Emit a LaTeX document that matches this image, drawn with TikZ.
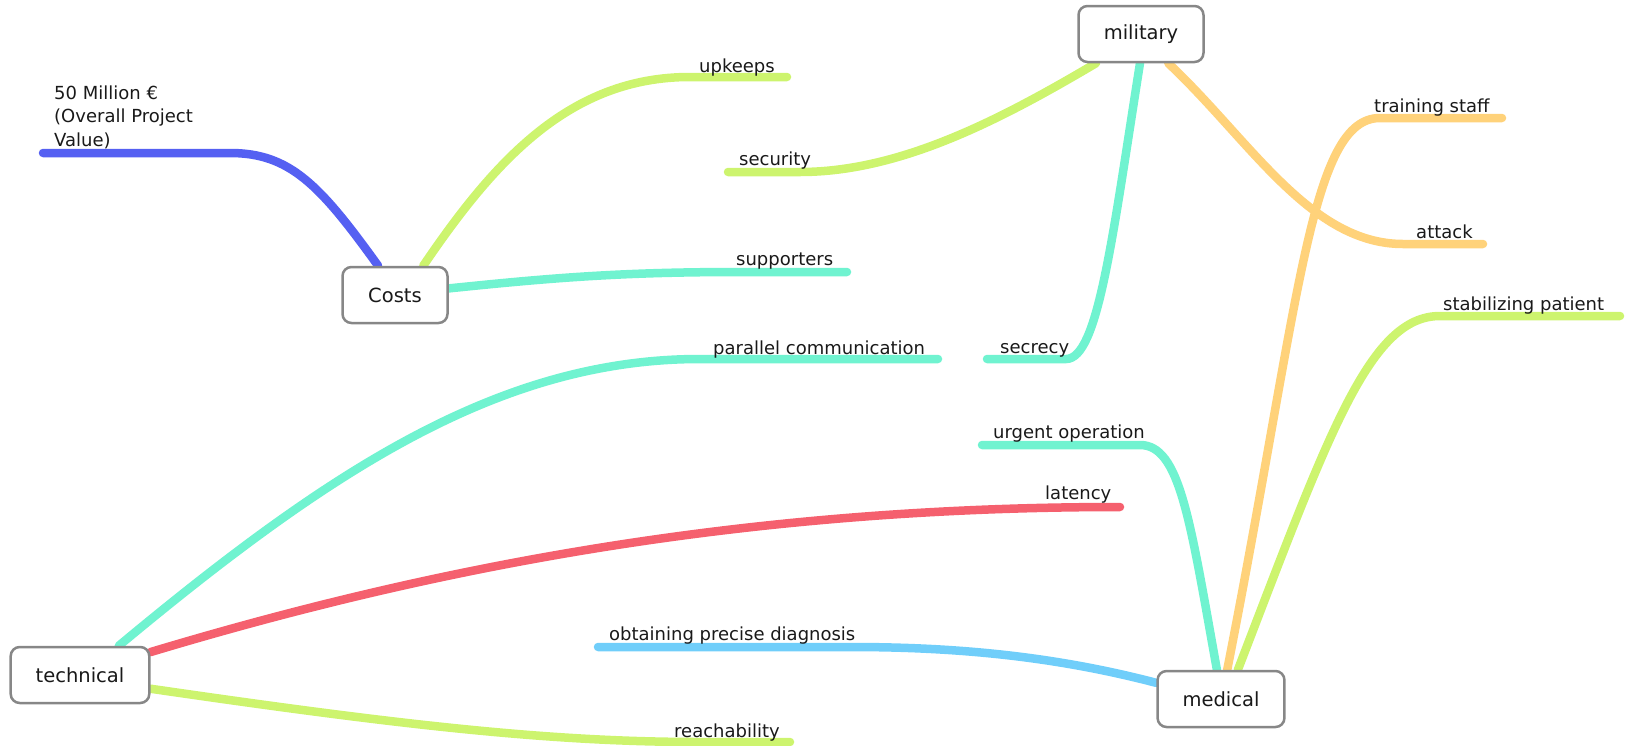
\documentclass[tikz,border=0pt]{standalone}
\usepackage{fontspec}
\setmainfont{DejaVu Sans}
\usetikzlibrary{backgrounds}
\definecolor{cblue}{RGB}{85,96,242}
\definecolor{cgreen}{RGB}{205,244,110}
\definecolor{cteal}{RGB}{112,243,208}
\definecolor{corange}{RGB}{255,210,122}
\definecolor{cred}{RGB}{245,96,110}
\definecolor{clblue}{RGB}{112,206,250}
\definecolor{boxgray}{RGB}{135,135,135}
\definecolor{txt}{RGB}{25,25,25}
\begin{document}
\begin{tikzpicture}[x=1pt,y=-1pt,
  topic/.style={draw=boxgray, line width=2.5pt, rounded corners=9pt, fill=white,
    minimum height=56pt, inner xsep=25pt, font=\fontsize{19.5}{23}\selectfont, text=txt},
  lbl/.style={anchor=base west, inner sep=0pt, font=\fontsize{18}{22}\selectfont, text=txt},
  branch/.style={line width=8.5pt, line cap=round}]
\useasboundingbox (0,0) rectangle (1628,745);

% topic nodes
\node[topic, minimum width=105pt] (costs) at (395,295) {Costs};
\node[topic, minimum width=125pt] (military) at (1141,34) {military};
\node[topic, minimum width=136pt] (technical) at (80,675) {technical};
\node[topic, minimum width=126pt] (medical) at (1221,699) {medical};

% labels
\node[anchor=north west, inner sep=0pt, align=left, font=\fontsize{18}{23.5}\selectfont, text=txt] (value) at (54,85.5) {50 Million €\\(Overall Project\\Value)};
\node[lbl] (upkeeps) at (699,72) {upkeeps};
\node[lbl] (security) at (739,165) {security};
\node[lbl] (supporters) at (736,265) {supporters};
\node[lbl] (parallel) at (713,354) {parallel communication};
\node[lbl] (secrecy) at (1000,353) {secrecy};
\node[lbl] (training) at (1374,112) {training staff};
\node[lbl] (attack) at (1416,238) {attack};
\node[lbl] (stabilizing) at (1443,310) {stabilizing patient};
\node[lbl] (urgent) at (993,438) {urgent operation};
\node[lbl] (latency) at (1045,499) {latency};
\node[lbl] (diagnosis) at (609,640) {obtaining precise diagnosis};
\node[lbl] (reach) at (674,737) {reachability};

% branch end points
\coordinate (eValue) at (43,153);
\coordinate (eUpk) at (787,77);
\coordinate (eSup) at (847,272);
\coordinate (eSec) at (728,172);
\coordinate (eSecr) at (987,359);
\coordinate (eAtt) at (1483,244);
\coordinate (eTrain) at (1502,118);
\coordinate (eStab) at (1620,316);
\coordinate (eUrg) at (982,445);
\coordinate (eLat) at (1120,507);
\coordinate (ePar) at (938,359);
\coordinate (eReach) at (790,742);
\coordinate (eDiag) at (598,647);

\begin{scope}[on background layer]
\draw[branch, cblue] (costs.120) .. controls (320,185) and (290,153) .. (230,153) -- (eValue);
\draw[branch, cgreen] (costs.46) .. controls (495,160) and (570,77) .. (690,77) -- (eUpk);
\draw[branch, cteal] (costs.7) .. controls (550,278) and (620,272) .. (740,272) -- (eSup);

\draw[branch, cgreen] (military.213) .. controls (1000,120) and (900,172) .. (800,172) -- (eSec);
\draw[branch, cteal] (military.268) .. controls (1112,240) and (1098,359) .. (1066,359) -- (eSecr);
\draw[branch, corange] (military.313) .. controls (1250,140) and (1310,244) .. (1403,244) -- (eAtt);

\draw[branch, corange] (medical.78) .. controls (1300,300) and (1310,118) .. (1380,118) -- (eTrain);
\draw[branch, cgreen] (medical.60) .. controls (1330,430) and (1370,316) .. (1440,316) -- (eStab);
\draw[branch, cteal] (medical.98) .. controls (1190,520) and (1180,445) .. (1140,445) -- (eUrg);
\draw[branch, clblue] (medical.166) .. controls (1050,655) and (950,647) .. (850,647) -- (eDiag);

\draw[branch, cteal] (technical.37) .. controls (330,470) and (500,359) .. (700,359) -- (ePar);
\draw[branch, cred] (technical.18) .. controls (440,565) and (750,507) .. (eLat);
\draw[branch, cgreen] (technical.-11) .. controls (400,725) and (550,742) .. (700,742) -- (eReach);
\end{scope}
\end{tikzpicture}
\end{document}
